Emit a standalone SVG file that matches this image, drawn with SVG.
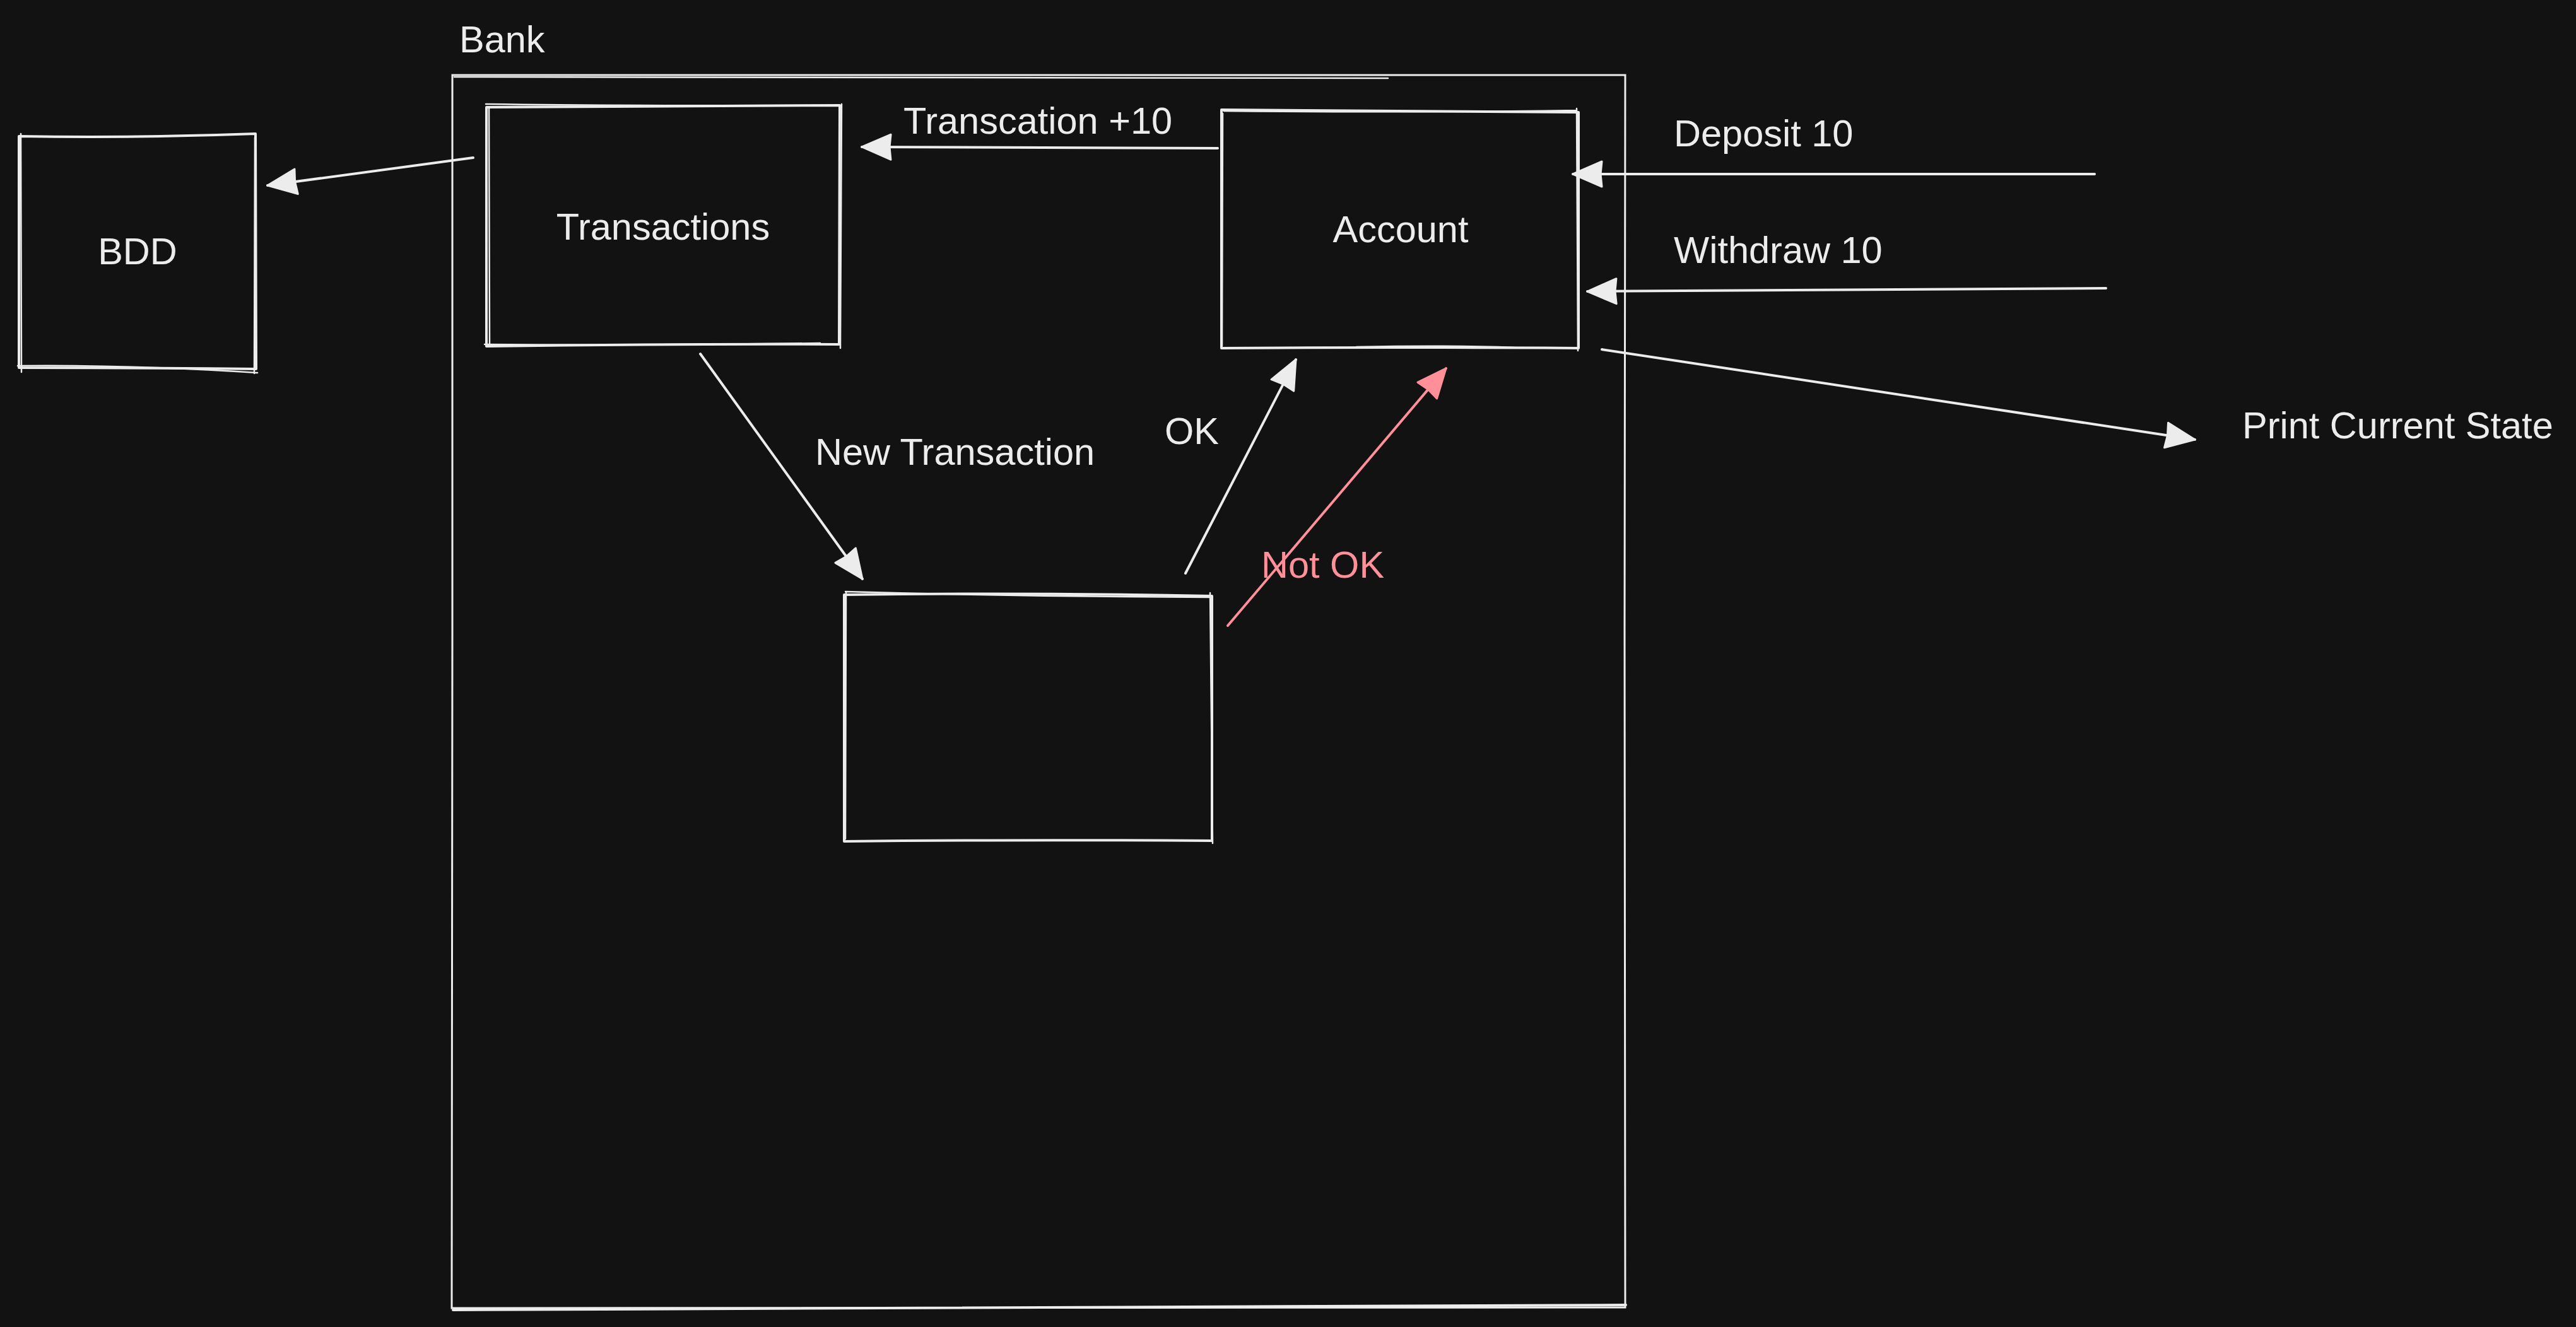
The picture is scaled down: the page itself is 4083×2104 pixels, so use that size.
<svg xmlns="http://www.w3.org/2000/svg" width="4083" height="2104" viewBox="0 0 4083 2104">
<style>
.bg{fill:#121212}
.box{fill:none;stroke:#ececec;stroke-width:4;stroke-linecap:round;stroke-linejoin:round}
.box2{fill:none;stroke:#ececec;stroke-width:2.5;stroke-linecap:round}
.frame{fill:none;stroke:#ececec;stroke-width:3;stroke-linecap:round}
.lbl{font-family:"Liberation Sans",Arial,Helvetica,sans-serif;font-size:59.5px;fill:#ececec}
.red{fill:#ff8f98}
.ln{fill:none;stroke:#ececec;stroke-width:4;stroke-linecap:round}
.lnr{fill:none;stroke:#ff8f98;stroke-width:4;stroke-linecap:round}
</style>
<defs>
<marker id="ah" markerUnits="userSpaceOnUse" viewBox="-52 -26 56 52" refX="0" refY="0" markerWidth="56" markerHeight="52" orient="auto">
<path d="M0,0 L-46,-20 L-44,0 L-46,20 Z" fill="#ececec" stroke="#ececec" stroke-width="3" stroke-linejoin="round"/>
</marker>
<marker id="ahr" markerUnits="userSpaceOnUse" viewBox="-52 -26 56 52" refX="0" refY="0" markerWidth="56" markerHeight="52" orient="auto">
<path d="M0,0 L-46,-20 L-44,0 L-46,20 Z" fill="#ff8f98" stroke="#ff8f98" stroke-width="3" stroke-linejoin="round"/>
</marker>
</defs>
<rect class="bg" x="0" y="0" width="4083" height="2104"/>

<g id="bank">
<path class="frame" d="M717,119 Q1600,121 2576,119 L2575,1000 L2576,2073 Q1600,2075 716,2074 L717,1000 Z"/>
<path class="box2" d="M720,122 Q1300,126 2200,124"/>
<path class="box" d="M718,2077 Q1600,2071 2577,2069"/>
<text class="lbl" x="728" y="83">Bank</text>
</g>

<g id="bdd">
<path class="box" d="M30,216 Q220,219 405,212 L406,585 Q220,583 30,583 Z"/>
<path class="box2" d="M33,212 L34,590 M404,218 L403,592 M28,580 Q200,578 408,591"/>
<text class="lbl" x="218" y="419" text-anchor="middle">BDD</text>
</g>

<g id="transactions">
<path class="box" d="M771,170 Q1050,168 1331,167 L1330,546 Q1050,545 771,549 Z"/>
<path class="box2" d="M770,165 Q1000,168 1334,167 M775,170 L776,545 M1334,165 L1332,552 M768,546 Q1000,548 1300,544"/>
<text class="lbl" x="1051" y="380" text-anchor="middle">Transactions</text>
</g>

<g id="account">
<path class="box" d="M1936,174 Q2200,176 2502,178 L2502,552 Q2200,550 1936,552 Z"/>
<path class="box2" d="M1940,176 Q2250,179 2498,175 M1938,180 L1937,548 M2499,172 L2501,556 M2150,550 Q2300,547 2400,551"/>
<text class="lbl" x="2220" y="384" text-anchor="middle">Account</text>
</g>

<g id="processor">
<path class="box" d="M1338,943 Q1600,939 1921,945 L1921,1333 Q1600,1331 1338,1334 Z"/>
<path class="box2" d="M1340,938 Q1630,946 1918,947 M1341,939 L1340,1330 M1918,940 L1922,1337"/>
</g>

<g id="connectors">
<path class="ln" d="M750,250 L424,294" marker-end="url(#ah)"/>
<path class="ln" d="M1930,235 L1366,233" marker-end="url(#ah)"/>
<text class="lbl" x="1432" y="212">Transcation +10</text>
<path class="ln" d="M3320,276 L2493,276" marker-end="url(#ah)"/>
<text class="lbl" x="2653" y="232">Deposit 10</text>
<path class="ln" d="M3338,457 L2516,462" marker-end="url(#ah)"/>
<text class="lbl" x="2653" y="417">Withdraw 10</text>
<path class="ln" d="M2539,554 L3479,697" marker-end="url(#ah)"/>
<text class="lbl" x="3554" y="695">Print Current State</text>
<path class="ln" d="M1110,561 L1367,918" marker-end="url(#ah)"/>
<text class="lbl" x="1292" y="737">New Transaction</text>
<path class="ln" d="M1879,909 L2054,570" marker-end="url(#ah)"/>
<text class="lbl" x="1846" y="704">OK</text>
<path class="lnr" d="M1946,992 L2292,584" marker-end="url(#ahr)"/>
<text class="lbl red" x="1999" y="916">Not OK</text>
</g>
</svg>
